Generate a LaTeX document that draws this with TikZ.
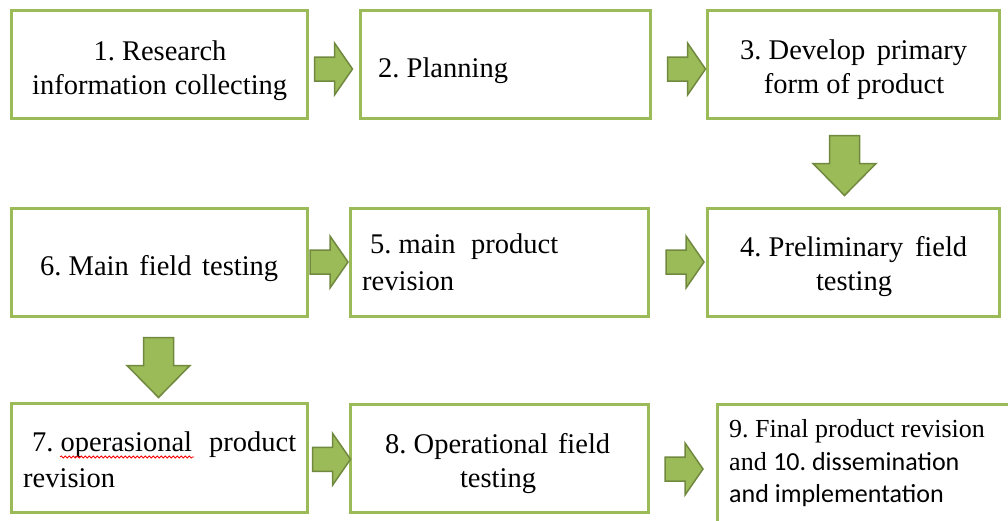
\documentclass[tikz,border=0pt]{standalone}
\usepackage{fontspec}
\setmainfont{Liberation Serif}
\newfontfamily\calib{Carlito}
\usetikzlibrary{calc,decorations.pathmorphing}
\definecolor{boxgreen}{HTML}{9BBB59}
\definecolor{arrowedge}{HTML}{71893F}
\begin{document}
\begin{tikzpicture}[x=1pt,y=-1pt,
  stepbox/.style={draw=boxgreen,line width=3pt,fill=white,minimum width=296pt,minimum height=108pt,inner sep=0pt},
  txt/.style={inner sep=0pt,font=\rmfamily\frenchspacing\fontsize{28.5}{34}\selectfont},
  smalltxt/.style={inner sep=0pt,font=\rmfamily\frenchspacing\fontsize{26}{32}\selectfont},
  blockarrow/.style={fill=boxgreen,draw=arrowedge,line width=1.5pt,line join=miter},
  rarrow/.pic={\path[blockarrow] (-19,-12) -- (1,-12) -- (1,-26) -- (19,0) -- (1,26) -- (1,12) -- (-19,12) -- cycle;},
  darrow/.pic={\path[blockarrow] (-15,-30) -- (15,-30) -- (15,-2) -- (31.5,-2) -- (0,30) -- (-31.5,-2) -- (-15,-2) -- cycle;}
]
\useasboundingbox (0,0) rectangle (1008,520);
\clip (0,0) rectangle (1008,520);
\fill[white] (0,0) rectangle (1008,520);

% step boxes
\node[stepbox] (b1) at (159,64) {};
\node[stepbox,minimum width=290pt] (b2) at (505,64) {};
\node[stepbox,minimum width=292pt] (b3) at (853,64) {};
\node[stepbox,minimum width=292pt] (b4) at (853,262) {};
\node[stepbox,minimum width=298pt] (b5) at (499,262) {};
\node[stepbox] (b6) at (159,262) {};
\node[stepbox,minimum height=109pt] (b7) at (159,457.5) {};
\node[stepbox,minimum width=298pt] (b8) at (499,458) {};
\node[stepbox,minimum width=298pt,minimum height=124pt] (b9) at (866,466) {};

% labels
\node[txt,anchor=base] (t1a) at (160,60) {1. Research};
\node[txt,anchor=base west] (t1b) at (32,94) {\makebox[255pt]{information\hfill collecting}};
\node[txt,anchor=base west] (t2) at (378,77) {2. Planning};
\node[txt,anchor=base west] (t3a) at (740,59) {\makebox[227pt]{3. Develop\hfill primary}};
\node[txt,anchor=base] (t3b) at (854,93) {form of product};
\node[txt,anchor=base west] (t4a) at (740,256) {\makebox[227pt]{4. Preliminary\hfill field}};
\node[txt,anchor=base] (t4b) at (854,290) {testing};
\node[txt,anchor=base west] (t5a) at (370,253) {\makebox[188pt]{5. main\hfill product}};
\node[txt,anchor=base west] (t5b) at (362,290) {revision};
\node[txt,anchor=base west] (t6) at (40,275) {\makebox[238pt]{6. Main\hfill field\hfill testing}};
\node[txt,anchor=base west] (t7a) at (32,451) {\makebox[264pt]{7. operasional\hfill product}};
\node[txt,anchor=base west] (t7b) at (23,487) {revision};
\node[txt,anchor=base west] (t8a) at (385,453) {\makebox[225pt]{8. Operational\hfill field}};
\node[txt,anchor=base] (t8b) at (498,487) {testing};
\node[smalltxt,anchor=base west] (t9a) at (729,437) {9. Final product revision};
\node[smalltxt,anchor=base west] (t9b) at (729,470) {and \calib 10. dissemination};
\node[smalltxt,anchor=base west] (t9c) at (729,502) {\calib and implementation};

% spell-check squiggle
\draw[red,line width=0.8pt,decorate,decoration={snake,segment length=4pt,amplitude=1pt}]
  (60,457) -- (194,457);

% block arrows between the steps
\pic at ($(b1.east)!0.5!(b2.west)+(0,5)$) {rarrow};
\pic at ($(b2.east)!0.5!(b3.west)+(8,5)$) {rarrow};
\pic at ($(b3.south)!0.5!(b4.north)+(-8.5,2.5)$) {darrow};
\pic at ($(b5.east)!0.5!(b4.west)+(7.5,0)$) {rarrow};
\pic at ($(b6.east)!0.5!(b5.west)+(0.5,0)$) {rarrow};
\pic at ($(b6.south)!0.5!(b7.north)+(-0.5,8)$) {darrow};
\pic at ($(b7.east)!0.5!(b8.west)+(3,1.5)$) {rarrow};
\pic at ($(b8.east)!0.5!(b9.west)+(1.5,7)$) {rarrow};
\end{tikzpicture}
\end{document}
